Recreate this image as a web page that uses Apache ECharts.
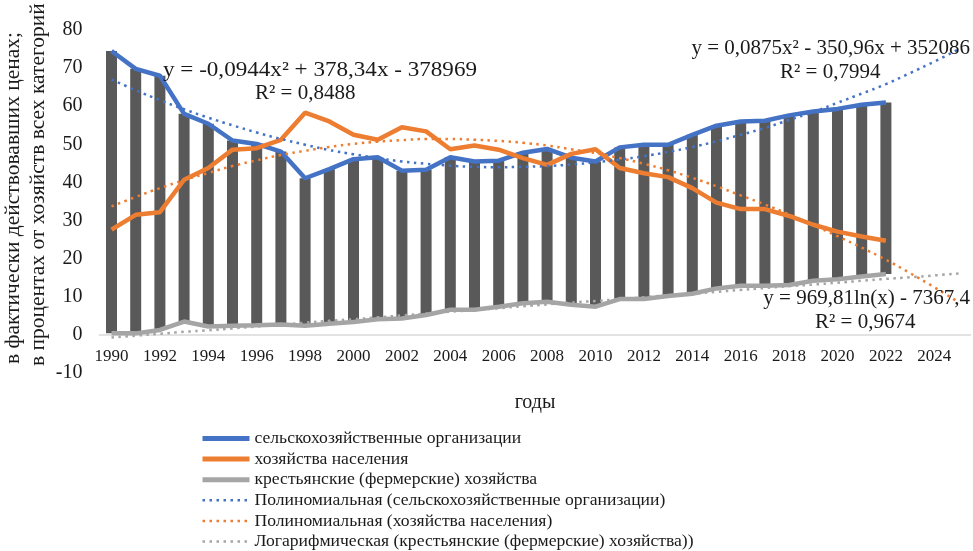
<!DOCTYPE html>
<html><head><meta charset="utf-8">
<script src="https://cdn.jsdelivr.net/npm/echarts@6/dist/echarts.min.js"></script>
<style>html,body{margin:0;padding:0;background:#fff}#c{width:973px;height:551px}</style>
</head><body><div id="c"></div>
<script>
const years = ['1990','1991','1992','1993','1994','1995','1996','1997','1998','1999','2000','2001','2002','2003','2004','2005','2006','2007','2008','2009','2010','2011','2012','2013','2014','2015','2016','2017','2018','2019','2020','2021','2022','2023','2024','2025'];
const agroOrg = [74.5, 69.8, 68.0, 58.0, 55.4, 51.0, 50.1, 48.1, 41.1, 43.5, 46.1, 46.6, 43.1, 43.3, 46.6, 45.5, 45.7, 47.8, 48.8, 46.5, 45.5, 49.2, 49.9, 49.9, 52.5, 54.9, 56.0, 56.2, 57.6, 58.6, 59.3, 60.4, 61.0];
const households = [27.6, 31.5, 32.2, 40.7, 43.8, 48.6, 49.0, 51.2, 58.3, 56.0, 52.5, 51.2, 54.5, 53.4, 48.7, 49.7, 48.6, 46.4, 44.6, 47.5, 48.7, 43.8, 42.4, 41.4, 38.5, 34.7, 33.0, 33.0, 31.2, 28.9, 27.1, 25.8, 24.7];
const farmers = [0.4, 0.4, 1.3, 3.5, 2.2, 2.4, 2.5, 2.7, 2.4, 2.9, 3.4, 4.1, 4.3, 5.2, 6.6, 6.6, 7.4, 8.3, 8.7, 7.9, 7.4, 9.4, 9.4, 10.2, 10.8, 12.2, 12.9, 12.9, 13.1, 14.2, 14.6, 15.3, 16.0];
const trendAgro = [67.0, 64.2, 61.6, 59.2, 57.0, 55.0, 53.1, 51.4, 49.9, 48.5, 47.4, 46.4, 45.5, 44.9, 44.4, 44.1, 44.0, 44.1, 44.3, 44.7, 45.3, 46.0, 46.9, 48.0, 49.3, 50.8, 52.5, 54.3, 56.4, 58.5, 60.9, 63.3, 65.8, 68.7, 71.7, 74.9];
const trendHouse = [33.7, 36.2, 38.5, 40.6, 42.5, 44.3, 45.8, 47.2, 48.3, 49.3, 50.1, 50.7, 51.1, 51.4, 51.4, 51.2, 50.9, 50.4, 49.7, 48.7, 47.7, 46.4, 44.9, 43.2, 41.2, 39.0, 36.6, 34.2, 31.6, 28.8, 25.9, 22.9, 19.7, 16.2, 12.5, 8.6];
const trendFarm = [-0.7, -0.2, 0.3, 0.8, 1.2, 1.7, 2.2, 2.7, 3.2, 3.7, 4.1, 4.6, 5.1, 5.6, 6.1, 6.5, 7.0, 7.5, 8.0, 8.5, 8.9, 9.4, 9.9, 10.4, 10.8, 11.3, 11.8, 12.3, 12.8, 13.2, 13.7, 14.2, 14.7, 15.1, 15.6, 16.1];
const names = ['сельскохозяйственные организации','хозяйства населения','крестьянские (фермерские) хозяйства','Полиномиальная (сельскохозяйственные организации)','Полиномиальная (хозяйства населения)','Логарифмическая (крестьянские (фермерские) хозяйства))'];
const yTicks = {min: -10, max: 80, interval: 10};

const F = "'Liberation Serif','Times New Roman',serif";
const barSpan = agroOrg.map((v, i) => +(v - farmers[i]).toFixed(2));
const chart = echarts.init(document.getElementById('c'), null, {renderer: 'canvas'});
const dotted = [2.5, 4.5];
const legendData = names.map((n, i) => ({name: n, lineStyle: i < 3 ? {width: 5} : {width: 2.5, type: dotted}}));
chart.setOption({
  animation: false,
  backgroundColor: '#fff',
  grid: {left: 99.4, right: 2.4, top: 30, bottom: 178},
  xAxis: {
    type: 'category', data: years, boundaryGap: true,
    offset: -38.1,
    axisLine: {onZero: false, lineStyle: {color: '#d9d9d9', width: 1.5}},
    axisTick: {show: false},
    axisLabel: {interval: 1, fontFamily: F, fontSize: 17, color: '#1a1a1a', margin: 13}
  },
  yAxis: {
    type: 'value', min: yTicks.min, max: yTicks.max, interval: yTicks.interval,
    splitLine: {show: false}, axisLine: {show: false}, axisTick: {show: false},
    axisLabel: {fontFamily: F, fontSize: 20, color: '#1a1a1a', margin: 17}
  },
  legend: {
    orient: 'vertical', left: 200, top: 429.5, height: 200, padding: 0, itemWidth: 47, itemHeight: 10, itemGap: 2.6,
    data: legendData,
    itemStyle: {opacity: 0},
    textStyle: {fontFamily: F, fontSize: 17.6, color: '#1a1a1a'}
  },
  series: [
    {name: 'base', type: 'bar', stack: 'ud', data: farmers, barWidth: 11, itemStyle: {color: 'transparent'}, silent: true, z: 1},
    {name: 'span', type: 'bar', stack: 'ud', data: barSpan, barWidth: 11, itemStyle: {color: '#595959'}, z: 1},
    {name: names[0], type: 'line', data: agroOrg, symbol: 'none', lineStyle: {color: '#4472C4', width: 4.5}, itemStyle: {color: '#4472C4'}, z: 3},
    {name: names[1], type: 'line', data: households, symbol: 'none', lineStyle: {color: '#ED7D31', width: 4.5}, itemStyle: {color: '#ED7D31'}, z: 3},
    {name: names[2], type: 'line', data: farmers, symbol: 'none', lineStyle: {color: '#A5A5A5', width: 4.5}, itemStyle: {color: '#A5A5A5'}, z: 2},
    {name: names[3], type: 'line', data: trendAgro, symbol: 'none', smooth: true, lineStyle: {color: '#4472C4', width: 2.5, type: dotted}, itemStyle: {color: '#4472C4'}, z: 4},
    {name: names[4], type: 'line', data: trendHouse, symbol: 'none', smooth: true, lineStyle: {color: '#ED7D31', width: 2.5, type: dotted}, itemStyle: {color: '#ED7D31'}, z: 4},
    {name: names[5], type: 'line', data: trendFarm, symbol: 'none', smooth: true, lineStyle: {color: '#A5A5A5', width: 2.5, type: dotted}, itemStyle: {color: '#A5A5A5'}, z: 4}
  ],
  graphic: [
    {type: 'text', x: 13, y: 364, rotation: Math.PI / 2, style: {text: 'в фактически действовавших ценах;', font: '21.5px ' + F, fill: '#1a1a1a', textAlign: 'left', textVerticalAlign: 'middle'}},
    {type: 'text', x: 38, y: 366, rotation: Math.PI / 2, style: {text: 'в процентах от хозяйств всех категорий', font: '21.5px ' + F, fill: '#1a1a1a', textAlign: 'left', textVerticalAlign: 'middle'}},
    {type: 'text', x: 535, y: 403, style: {text: 'годы', font: '20px ' + F, fill: '#1a1a1a', textAlign: 'center', textVerticalAlign: 'middle'}},
    {type: 'text', x: 163, y: 70, scaleX: 1.1, style: {text: 'y = -0,0944x² + 378,34x - 378969', font: '21px ' + F, fill: '#1a1a1a', textAlign: 'left', textVerticalAlign: 'middle'}, z: 10},
    {type: 'text', x: 255, y: 93, style: {text: 'R² = 0,8488', font: '21px ' + F, fill: '#1a1a1a', textAlign: 'left', textVerticalAlign: 'middle'}, z: 10},
    {type: 'text', x: 970, y: 48, style: {text: 'y = 0,0875x² - 350,96x + 352086', font: '21px ' + F, fill: '#1a1a1a', textAlign: 'right', textVerticalAlign: 'middle'}, z: 10},
    {type: 'text', x: 780, y: 72, style: {text: 'R² = 0,7994', font: '21px ' + F, fill: '#1a1a1a', textAlign: 'left', textVerticalAlign: 'middle'}, z: 10},
    {type: 'text', x: 970, y: 298, style: {text: 'y = 969,81ln(x) - 7367,4', font: '21px ' + F, fill: '#1a1a1a', textAlign: 'right', textVerticalAlign: 'middle'}, z: 10},
    {type: 'text', x: 815, y: 322, style: {text: 'R² = 0,9674', font: '21px ' + F, fill: '#1a1a1a', textAlign: 'left', textVerticalAlign: 'middle'}, z: 10}
  ]
});
</script></body></html>
